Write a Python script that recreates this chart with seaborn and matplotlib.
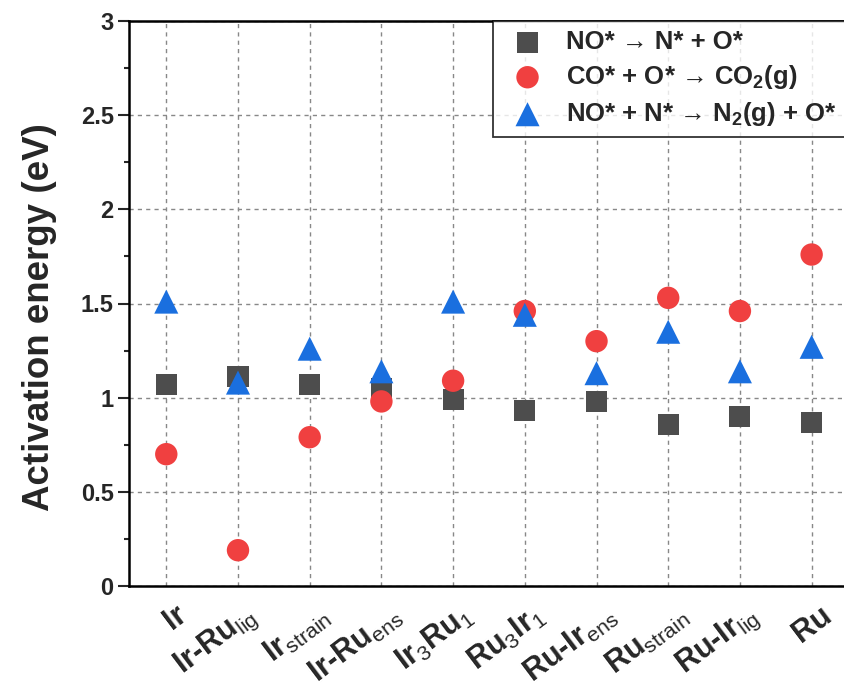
import pandas as pd
import matplotlib.pyplot as plt
import matplotlib.transforms as mtransforms
import seaborn as sns
from matplotlib.ticker import MultipleLocator

sns.set_style("whitegrid")
plt.rcParams['font.family'] = ['Liberation Sans', 'DejaVu Sans']
plt.rcParams['mathtext.fontset'] = 'custom'
plt.rcParams['mathtext.rm'] = 'Liberation Sans'
plt.rcParams['mathtext.bf'] = 'Liberation Sans:bold'

# catalysts (x axis)
catalysts = [r'Ir', r'Ir-Ru$_{\mathrm{lig}}$', r'Ir$_{\mathrm{strain}}$', r'Ir-Ru$_{\mathrm{ens}}$',
             r'Ir$_{\mathrm{3}}$Ru$_{\mathrm{1}}$', r'Ru$_{\mathrm{3}}$Ir$_{\mathrm{1}}$',
             r'Ru-Ir$_{\mathrm{ens}}$', r'Ru$_{\mathrm{strain}}$', r'Ru-Ir$_{\mathrm{lig}}$', r'Ru']

# activation energies (eV)
no_dissoc = [1.07, 1.11, 1.07, 1.05, 0.99, 0.93, 0.98, 0.86, 0.90, 0.87]
co_oxid = [0.70, 0.19, 0.79, 0.98, 1.09, 1.46, 1.30, 1.53, 1.46, 1.76]
n2_form = [1.51, 1.08, 1.26, 1.14, 1.51, 1.44, 1.13, 1.35, 1.14, 1.27]

reactions = [r'NO* → N* + O*',
             r'CO* + O* → CO$_\mathbf{2}$(g)',
             r'NO* + N* → N$_\mathbf{2}$(g) + O*']
colors = ['#4d4d4d', '#f04040', '#1a6fdf']
markers = ['s', 'o', '^']

df = pd.DataFrame({
    'pos': list(range(len(catalysts))) * 3,
    'energy': no_dissoc + co_oxid + n2_form,
    'reaction': [r for r in reactions for _ in catalysts],
})

fig = plt.figure(figsize=(8.44, 6.92), dpi=100)
ax = fig.add_axes([129 / 844, 1 - 586 / 692, 1 - 129 / 844 + 0.002, (586 - 21) / 692])

for rxn, col, mk, size in zip(reactions, colors, markers, [230, 260, 300]):
    sub = df[df['reaction'] == rxn]
    sns.scatterplot(data=sub, x='pos', y='energy', color=col, marker=mk, s=size,
                    edgecolor='none', linewidth=0, label=rxn, ax=ax, zorder=3)

ax.set_xlim(-0.52, 9.475)
ax.set_ylim(0, 3)
ax.set_yticks([0, 0.5, 1, 1.5, 2, 2.5, 3])
ax.set_yticklabels(['0', '0.5', '1', '1.5', '2', '2.5', '3'], fontsize=17, fontweight='bold')
ax.yaxis.set_minor_locator(MultipleLocator(0.25))
ax.tick_params(axis='y', which='major', direction='out', length=8, width=1.5, left=True, pad=3)
ax.tick_params(axis='y', which='minor', direction='out', length=3.5, width=1.5, left=True)
ax.tick_params(axis='x', length=0, pad=10)

ax.set_xticks(range(len(catalysts)))
ax.set_xticklabels(catalysts, rotation=37, ha='right', fontsize=22, fontweight='bold')
# shift rotated labels a bit to the right, like the original
shift = mtransforms.ScaledTranslation(26 / 100, 0, fig.dpi_scale_trans)
for lab in ax.xaxis.get_majorticklabels():
    lab.set_transform(lab.get_transform() + shift)

ax.set_xlabel('')
ax.set_ylabel('Activation energy (eV)', fontsize=26.5, fontweight='bold')
ax.yaxis.set_label_coords(-0.100, 0.476)

ax.grid(True, which='major', linestyle=(0, (3, 3)), color='#888888', linewidth=1.0)
ax.grid(False, which='minor')
for side in ['left', 'bottom', 'top', 'right']:
    ax.spines[side].set_color('black')
    ax.spines[side].set_linewidth(1.8)

leg = ax.legend(loc='upper right', frameon=True, fancybox=False, edgecolor='black',
                prop={'weight': 'bold', 'size': 18.5}, borderaxespad=0.0,
                handletextpad=0.5, labelspacing=0.35, borderpad=0.35, markerscale=1.0)
leg.get_frame().set_linewidth(1.3)

fig.savefig('out.png', dpi=100)
